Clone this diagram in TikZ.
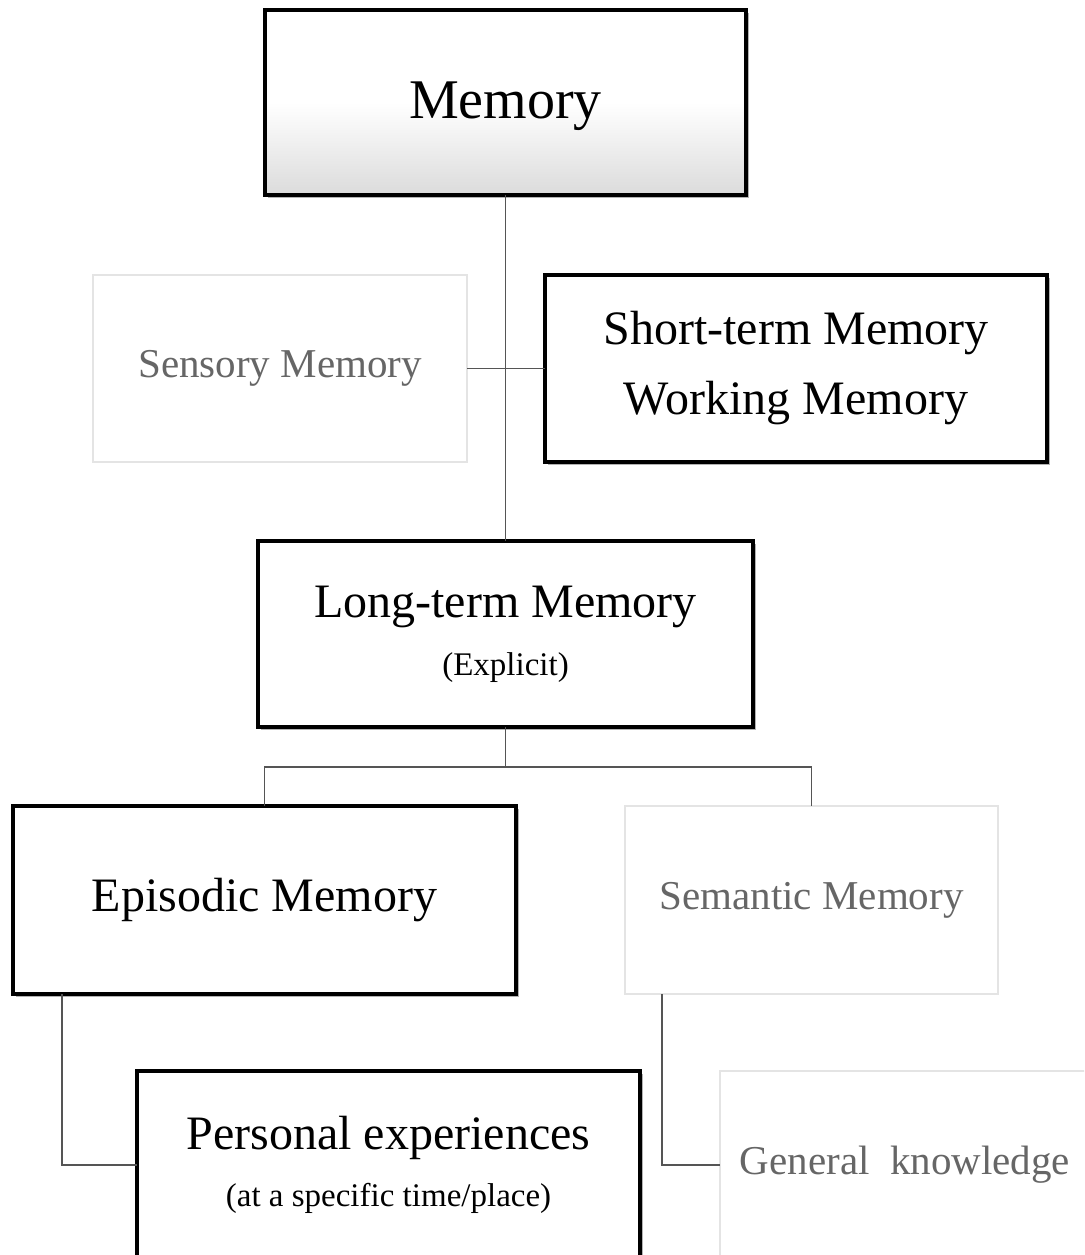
\documentclass[tikz,border=0pt]{standalone}
\usepackage{fontspec}
\setmainfont{Liberation Serif}
\usetikzlibrary{shadows}
\definecolor{faint}{HTML}{E4E4E4}
\definecolor{fainttext}{HTML}{666666}
\definecolor{conn}{HTML}{555555}
\tikzset{
  strongbox/.style={draw=black, line width=3.2pt, fill=white, inner sep=0pt, outer sep=0pt, align=center,
    drop shadow={shadow xshift=3pt, shadow yshift=-3pt, opacity=0.3, fill=black}},
  faintbox/.style={draw=faint, line width=1.4pt, fill=white, inner sep=0pt, outer sep=0pt, align=center, text=fainttext},
  conline/.style={draw=conn, line width=1.5pt}
}
\begin{document}
\begin{tikzpicture}[x=1pt,y=-1pt]
\fill[white] (0,0) rectangle (1084,1255);
\useasboundingbox (0,0) rectangle (1084,1255);
\clip (0,0) rectangle (1084,1255);

\node[strongbox, minimum width=481pt, minimum height=185pt,
  top color=white, bottom color=black!14, middle color=white,
  font=\fontsize{56}{60}\selectfont, text depth=4pt] (mem) at (505.5,102.5)
  {Memory};

\node[faintbox, minimum width=374pt, minimum height=187pt,
  font=\fontsize{41}{48}\selectfont] (sens) at (280,368.5)
  {Sensory Memory};

\node[strongbox, minimum width=502pt, minimum height=187pt,
  font=\fontsize{48}{70}\selectfont] (stm) at (796,368.5)
  {Short-term Memory\\Working Memory};

\node[strongbox, minimum width=495pt, minimum height=186pt,
  font=\fontsize{48}{58}\selectfont] (long) at (505.5,634)
  {Long-term Memory\\{\fontsize{33}{58}\selectfont (Explicit)}};

\node[strongbox, minimum width=503pt, minimum height=188pt,
  font=\fontsize{48}{58}\selectfont] (epi) at (264.5,900)
  {Episodic Memory};

\node[faintbox, minimum width=373pt, minimum height=188pt,
  font=\fontsize{41}{48}\selectfont] (sem) at (811.5,900)
  {Semantic Memory};

\node[strongbox, minimum width=503pt, minimum height=188pt,
  font=\fontsize{48}{57}\selectfont] (pers) at (388.5,1165)
  {Personal experiences\\{\fontsize{33}{57}\selectfont (at a specific time/place)}};

\node[faintbox, minimum width=370pt, minimum height=188pt,
  font=\fontsize{41}{48}\selectfont] (gen) at (905,1165)
  {General\ \ knowledge};

\begin{scope}[on background layer/.style={}]
\end{scope}
% connectors
\draw[conline] (mem.south) -- (long.north);
\draw[conline] (sens.east) -- (stm.west);
\draw[conline] (long.south) -- ++(0,40) coordinate (split);
\draw[conline] (epi.north) |- (split) -| (sem.north);
\draw[conline] ([xshift=49pt]epi.south west) |- (pers.west);
\draw[conline] ([xshift=37pt]sem.south west) |- (gen.west);
\end{tikzpicture}
\end{document}
